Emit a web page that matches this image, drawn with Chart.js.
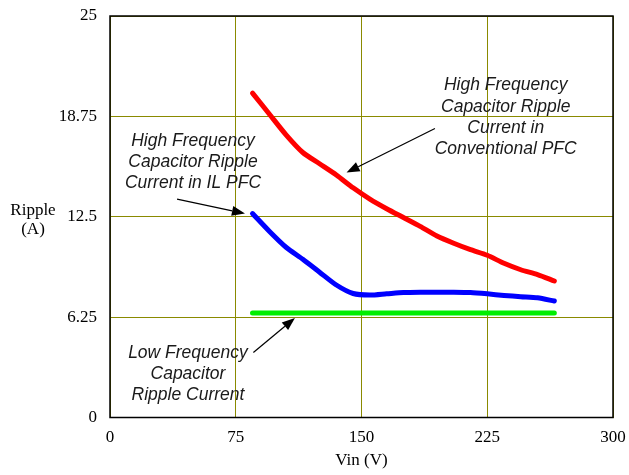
<!DOCTYPE html>
<html>
<head>
<meta charset="utf-8">
<style>
  html, body { margin: 0; padding: 0; background: #fff; }
  #wrap { width: 629px; height: 475px; }
</style>
</head>
<body>
<div id="wrap"><canvas id="mychart"></canvas></div>
<script src="https://cdn.jsdelivr.net/npm/chart.js@4.4.1/dist/chart.umd.min.js"></script>
<script>

// values
var vin = [85, 95, 105, 115, 125, 135, 145, 155, 165, 175, 185, 195, 205, 215, 225, 235, 245, 255, 265];
var conventional = [20.2, 18.9, 17.6, 16.5, 15.8, 15.1, 14.3, 13.6, 13.0, 12.45, 11.9, 11.3, 10.85, 10.45, 10.1, 9.6, 9.2, 8.9, 8.5];
var interleaved = [12.7, 11.6, 10.6, 9.85, 9.05, 8.25, 7.72, 7.62, 7.7, 7.78, 7.8, 7.8, 7.8, 7.78, 7.7, 7.6, 7.52, 7.45, 7.25];
var lowFreq = [6.5, 6.5, 6.5, 6.5, 6.5, 6.5, 6.5, 6.5, 6.5, 6.5, 6.5, 6.5, 6.5, 6.5, 6.5, 6.5, 6.5, 6.5, 6.5];

var xTicks = [0, 75, 150, 225, 300];
var yTicks = [0, 6.25, 12.5, 18.75, 25];
var yTickLabels = ['0', '6.25', '12.5', '18.75', '25'];

// callouts: text lines centred at x, one y per line, then arrow from -> to (data units)
var notes = [
  { lines: ['High Frequency', 'Capacitor Ripple', 'Current in IL PFC'], x: 49.5, y: [17.2, 15.9, 14.6], from: [40, 13.6], to: [80.5, 12.7] },
  { lines: ['High Frequency', 'Capacitor Ripple', 'Current in', 'Conventional PFC'], x: 236, y: [20.7, 19.35, 18.0, 16.7], from: [193.8, 18.0], to: [141.1, 15.25] },
  { lines: ['Low Frequency', 'Capacitor', 'Ripple Current'], x: 46.5, y: [4.0, 2.7, 1.4], from: [85.5, 4.05], to: [110.3, 6.2] }
];

function pts(ys) {
  return vin.map(function (x, i) { return { x: x, y: ys[i] }; });
}

var serif = 'Liberation Serif, Times New Roman, serif';
var sans = 'Liberation Sans, Arial, sans-serif';

var extras = {
  id: 'extras',
  afterDraw: function (chart) {
    var ctx = chart.ctx;
    var a = chart.chartArea;
    var xs = chart.scales.x, ys = chart.scales.y;
    ctx.save();
    // frame
    ctx.strokeStyle = '#000';
    ctx.lineWidth = 1.5;
    ctx.strokeRect(a.left, a.top, a.right - a.left, a.bottom - a.top);

    // y axis title
    ctx.fillStyle = '#000';
    ctx.font = '17px ' + serif;
    ctx.textAlign = 'center';
    ctx.textBaseline = 'middle';
    ctx.fillText('Ripple', 33, 211);
    ctx.fillText('(A)', 33, 230);

    // callouts
    ctx.font = 'italic 17.5px ' + sans;
    notes.forEach(function (n) {
      ctx.fillStyle = '#1a1a1a';
      n.lines.forEach(function (t, i) {
        ctx.fillText(t, xs.getPixelForValue(n.x), ys.getPixelForValue(n.y[i]));
      });
      var x1 = xs.getPixelForValue(n.from[0]), y1 = ys.getPixelForValue(n.from[1]);
      var x2 = xs.getPixelForValue(n.to[0]), y2 = ys.getPixelForValue(n.to[1]);
      var ang = Math.atan2(y2 - y1, x2 - x1);
      var hl = 13, hw = 5;
      var c = Math.cos(ang), s = Math.sin(ang);
      ctx.strokeStyle = '#000';
      ctx.lineWidth = 1.2;
      ctx.beginPath();
      ctx.moveTo(x1, y1);
      ctx.lineTo(x2 - hl * c, y2 - hl * s);
      ctx.stroke();
      ctx.fillStyle = '#000';
      ctx.beginPath();
      ctx.moveTo(x2, y2);
      ctx.lineTo(x2 - hl * c + hw * s, y2 - hl * s - hw * c);
      ctx.lineTo(x2 - hl * c - hw * s, y2 - hl * s + hw * c);
      ctx.closePath();
      ctx.fill();
    });
    ctx.restore();
  }
};

var mychart = document.getElementById('mychart').getContext('2d');

var rippleChart = new Chart(mychart, {
  type: 'line',
  data: {
    datasets: [
      { label: 'Conventional PFC', data: pts(conventional), borderColor: '#ff0000', borderWidth: 5 },
      { label: 'IL PFC', data: pts(interleaved), borderColor: '#0000ff', borderWidth: 5 },
      { label: 'Low Frequency', data: pts(lowFreq), borderColor: '#00ee00', borderWidth: 5 }
    ]
  },
  options: {
    responsive: true,
    maintainAspectRatio: false,
    animation: false,
    layout: { padding: { top: 16, right: 16, left: 0, bottom: 0 } },
    elements: {
      point: { radius: 0 },
      line: { tension: 0.25, borderCapStyle: 'round', borderJoinStyle: 'round', fill: false }
    },
    plugins: {
      legend: { display: false },
      tooltip: { enabled: false }
    },
    scales: {
      x: {
        type: 'linear',
        min: 0,
        max: 300,
        afterBuildTicks: function (s) { s.ticks = xTicks.map(function (v) { return { value: v }; }); },
        afterFit: function (s) { s.height = 57.5; s.paddingLeft = 0; s.paddingRight = 0; },
        grid: { color: '#8a8a00', lineWidth: 1, drawTicks: false },
        border: { display: false },
        ticks: { color: '#000', padding: 10, font: { family: serif, size: 17 } },
        title: { display: true, text: 'Vin (V)', color: '#000', font: { family: serif, size: 17 }, padding: { top: 0, bottom: 4 } }
      },
      y: {
        type: 'linear',
        min: 0,
        max: 25,
        afterBuildTicks: function (s) { s.ticks = yTicks.map(function (v) { return { value: v }; }); },
        afterFit: function (s) { s.width = 110; s.paddingTop = 0; s.paddingBottom = 0; },
        grid: { color: '#8a8a00', lineWidth: 1, drawTicks: false },
        border: { display: false },
        ticks: {
          color: '#000',
          padding: 13,
          font: { family: serif, size: 17 },
          callback: function (v) { return yTickLabels[yTicks.indexOf(v)]; }
        }
      }
    }
  },
  plugins: [extras]
});

</script>
</body>
</html>
